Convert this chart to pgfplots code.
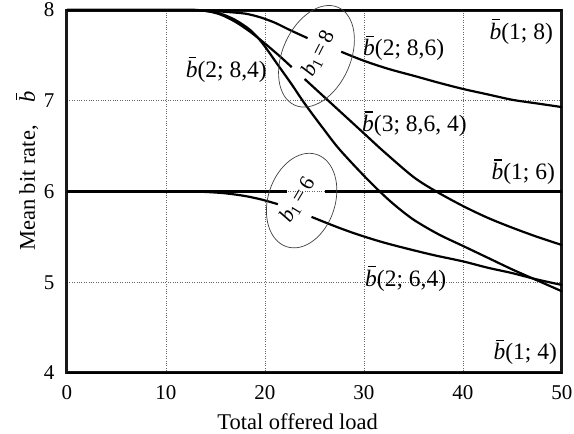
\documentclass[border=0pt]{standalone}
\usepackage{fontspec}
\setmainfont{Liberation Serif}
\usepackage{pgfplots}
\pgfplotsset{compat=1.18}
\usetikzlibrary{shapes.geometric}
\newcommand{\bb}{\makebox[0pt][l]{\hspace{0.12em}\rule[0.8em]{0.32em}{0.06em}}\textit{b}}
\begin{document}
\begin{tikzpicture}
\path[use as bounding box] (-67pt,-61pt) rectangle (507pt,373pt);
\begin{axis}[
  at={(0,0)}, anchor=south west,
  scale only axis, width=495pt, height=363pt,
  xmin=0, xmax=50, ymin=4, ymax=8,
  xtick={0,10,20,30,40,50}, ytick={4,5,6,7,8},
  grid=major, grid style={dotted, black!60, line width=0.8pt},
  major tick length=0pt,
  axis line style={line width=3pt, black!90},
  clip=false,
  tick label style={font=\fontsize{21}{25}\selectfont},
  /pgf/number format/assume math mode=true,
  xticklabel style={yshift=-9pt},
  yticklabel style={xshift=-9pt},
  xlabel={Total offered load},
  ylabel={Mean bit rate,\enspace\ \ \bb},
  label style={font=\fontsize{22.5}{26}\selectfont},
  xlabel style={at={(axis description cs:0.466,0)}, anchor=center, yshift=-49pt},
  ylabel style={at={(axis description cs:-0.0808,0.556)}, anchor=center},
  no markers,
  every axis plot post/.append style={line width=2.2pt, black, solid, smooth, tension=0.5},
]
% b(1;8)
\addplot coordinates {(0,8) (50,8)};
% b(1;6) with gap
\addplot coordinates {(0,6) (22.2,6)};
\addplot coordinates {(26.1,6) (50,6)};
% b(1;4)
\addplot coordinates {(0,4) (50,4)};
% b(2;8,6)
\addplot coordinates {(0,8) (12,8) (14,7.995) (16,7.98) (18,7.96) (19.5,7.92) (21,7.86) (22.5,7.78) (24.3,7.69)};
\addplot coordinates {(27.7,7.54) (30,7.44) (32.5,7.35) (35.2,7.27) (37.5,7.20) (40,7.13) (42.5,7.07) (45,7.01) (47.5,6.97) (50,6.93)};
% b(3;8,6,4)
\addplot coordinates {(0,8) (12,8) (14,7.99) (15.5,7.95) (17,7.87) (18.5,7.76) (20,7.63) (21.5,7.49) (22.7,7.37)};
\addplot coordinates {(24,7.24) (25.5,7.09) (27.4,6.90) (30,6.64) (32,6.44) (35,6.16) (37.3,6.0) (40,5.84) (42.5,5.71) (45,5.60) (47.5,5.50) (50,5.41)};
% b(2;8,4)
\addplot coordinates {(0,8) (12,8) (14,7.99) (15.5,7.96) (17,7.89) (18.5,7.78) (19.7,7.64) (21.4,7.38) (22.7,7.18) (24,6.97) (25.7,6.72) (27.4,6.48) (29.5,6.23) (31.4,6.02) (33,5.86) (35,5.69) (37.5,5.53) (40,5.40) (42.5,5.27) (45,5.14) (47.5,5.02) (50,4.90)};
% b(2;6,4)
\addplot coordinates {(0,6) (12,6) (14,5.995) (16,5.98) (18,5.95) (19.7,5.91) (21.3,5.86)};
\addplot coordinates {(24.7,5.72) (27,5.62) (29,5.54) (31.6,5.45) (34,5.38) (37,5.30) (40,5.23) (42.5,5.16) (45,5.10) (47.5,5.03) (50,4.97)};

% ellipses
\node[draw=black!75, line width=0.7pt, ellipse, minimum width=107pt, minimum height=68pt, rotate=66, inner sep=0pt] at (axis cs:25.2,7.49) {};
\node[rotate=63, font=\fontsize{21.5}{25}\selectfont, inner sep=0pt] at (axis cs:25.4,7.52) {\textit{b}\textsubscript{1}\,=\,8};
\node[draw=black!75, line width=0.7pt, ellipse, minimum width=97pt, minimum height=67pt, rotate=72, inner sep=0pt] at (axis cs:23.7,5.90) {};
\node[rotate=59, font=\fontsize{21.5}{25}\selectfont, inner sep=0pt] at (axis cs:23.3,5.91) {\textit{b}\textsubscript{1}\,=\,6};

% curve labels
\begin{scope}[every node/.style={font=\fontsize{23.5}{27}\selectfont, inner sep=0pt}]
\node[anchor=east] at (axis cs:49.1,7.763) {\bb(1; 8)};
\node[anchor=west] at (axis cs:29.9,7.58) {\bb(2; 8,6)};
\node[anchor=west] at (axis cs:29.8,6.744) {\bb(3; 8,6, 4)};
\node[anchor=east] at (axis cs:49.3,6.215) {\bb(1; 6)};
\node[anchor=west] at (axis cs:30.1,5.04) {\bb(2; 6,4)};
\node[anchor=east] at (axis cs:49.5,4.23) {\bb(1; 4)};
\node[anchor=east] at (axis cs:20.2,7.344) {\bb(2; 8,4)};
\end{scope}
\end{axis}
\end{tikzpicture}
\end{document}
